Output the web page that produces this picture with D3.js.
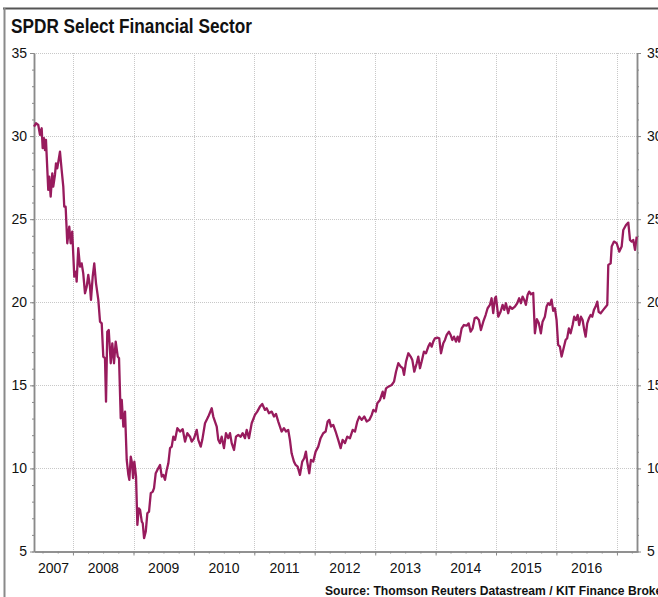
<!DOCTYPE html>
<html>
<head>
<meta charset="utf-8">
<script src="https://cdn.jsdelivr.net/npm/d3@7"></script>
<style>
  body { margin: 0; background: #fff; }
  svg { display: block; }
</style>
</head>
<body>
<svg id="chart" width="658" height="597"></svg>
<script>
const title = "SPDR Select Financial Sector"
const source = "Source: Thomson Reuters Datastream / KIT Finance Broker"
const yearLabels = ["2007", "2008", "2009", "2010", "2011", "2012", "2013", "2014", "2015", "2016"]
const yTicks = [5, 10, 15, 20, 25, 30, 35]

// weekly-ish closes (decimal year, price)
const dates = [
  2007.355, 2007.388, 2007.426, 2007.454, 2007.482, 2007.499, 2007.520, 2007.537, 2007.553, 2007.591,
  2007.608, 2007.631, 2007.658, 2007.674, 2007.702, 2007.719, 2007.740, 2007.785, 2007.813, 2007.840,
  2007.856, 2007.879, 2007.906, 2007.939, 2007.962, 2007.988, 2008.022, 2008.050, 2008.061, 2008.088,
  2008.116, 2008.144, 2008.170, 2008.199, 2008.227, 2008.253, 2008.281, 2008.298, 2008.326, 2008.352,
  2008.381, 2008.419, 2008.447, 2008.475, 2008.501, 2008.529, 2008.546, 2008.567, 2008.591, 2008.624,
  2008.650, 2008.678, 2008.706, 2008.740, 2008.761, 2008.789, 2008.806, 2008.832, 2008.860, 2008.888,
  2008.915, 2008.931, 2008.955, 2008.976, 2008.993, 2009.014, 2009.042, 2009.064, 2009.087, 2009.109,
  2009.137, 2009.153, 2009.175, 2009.203, 2009.229, 2009.257, 2009.286, 2009.319, 2009.340, 2009.368,
  2009.395, 2009.439, 2009.468, 2009.494, 2009.522, 2009.550, 2009.577, 2009.605, 2009.633, 2009.659,
  2009.688, 2009.726, 2009.770, 2009.815, 2009.853, 2009.891, 2009.936, 2009.964, 2010.002, 2010.047,
  2010.073, 2010.113, 2010.139, 2010.184, 2010.239, 2010.295, 2010.321, 2010.378, 2010.404, 2010.432,
  2010.460, 2010.498, 2010.531, 2010.569, 2010.598, 2010.626, 2010.664, 2010.697, 2010.735, 2010.775,
  2010.808, 2010.846, 2010.874, 2010.912, 2010.957, 2011.011, 2011.049, 2011.094, 2011.132, 2011.177,
  2011.205, 2011.243, 2011.288, 2011.326, 2011.359, 2011.397, 2011.425, 2011.453, 2011.491, 2011.524,
  2011.562, 2011.590, 2011.618, 2011.657, 2011.685, 2011.718, 2011.756, 2011.794, 2011.827, 2011.855,
  2011.876, 2011.910, 2011.938, 2011.976, 2012.016, 2012.059, 2012.098, 2012.141, 2012.181, 2012.214,
  2012.241, 2012.269, 2012.307, 2012.346, 2012.389, 2012.429, 2012.462, 2012.500, 2012.538, 2012.583,
  2012.628, 2012.666, 2012.704, 2012.737, 2012.777, 2012.820, 2012.859, 2012.902, 2012.942, 2012.969,
  2013.008, 2013.035, 2013.079, 2013.124, 2013.146, 2013.179, 2013.217, 2013.273, 2013.311, 2013.344,
  2013.382, 2013.422, 2013.455, 2013.477, 2013.510, 2013.548, 2013.587, 2013.614, 2013.647, 2013.687,
  2013.713, 2013.741, 2013.769, 2013.807, 2013.840, 2013.879, 2013.907, 2013.935, 2013.961, 2013.989,
  2014.027, 2014.060, 2014.089, 2014.127, 2014.155, 2014.183, 2014.221, 2014.249, 2014.276, 2014.304,
  2014.337, 2014.365, 2014.391, 2014.431, 2014.469, 2014.514, 2014.547, 2014.580, 2014.613, 2014.646,
  2014.679, 2014.717, 2014.750, 2014.789, 2014.828, 2014.861, 2014.899, 2014.927, 2014.954, 2014.982,
  2014.999, 2015.037, 2015.076, 2015.109, 2015.136, 2015.164, 2015.202, 2015.230, 2015.268, 2015.313,
  2015.351, 2015.384, 2015.412, 2015.440, 2015.467, 2015.495, 2015.523, 2015.550, 2015.578, 2015.616,
  2015.644, 2015.677, 2015.710, 2015.743, 2015.771, 2015.809, 2015.838, 2015.864, 2015.892, 2015.920,
  2015.947, 2015.975, 2016.003, 2016.029, 2016.058, 2016.086, 2016.112, 2016.152, 2016.178, 2016.206,
  2016.235, 2016.268, 2016.294, 2016.322, 2016.351, 2016.377, 2016.405, 2016.433, 2016.460, 2016.483,
  2016.509, 2016.537, 2016.565, 2016.592, 2016.620, 2016.648, 2016.675, 2016.698, 2016.731, 2016.774,
  2016.819, 2016.840, 2016.857, 2016.896, 2016.913, 2016.951, 2016.996, 2017.039, 2017.078, 2017.105,
  2017.150, 2017.188, 2017.216, 2017.244, 2017.270, 2017.299, 2017.327
]
const prices = [
  30.57, 30.77, 30.67, 30.07, 30.47, 29.27, 29.87, 29.16, 29.77, 26.76,
  27.56, 26.36, 27.76, 26.96, 27.66, 28.36, 28.06, 29.06, 27.96, 26.96,
  25.75, 25.75, 23.55, 24.55, 23.55, 24.25, 21.54, 21.84, 21.24, 23.25,
  22.14, 22.34, 21.74, 20.54, 20.94, 21.64, 20.94, 20.14, 21.54, 22.34,
  21.14, 20.14, 18.83, 18.73, 16.73, 16.63, 14.02, 18.23, 18.33, 16.33,
  17.53, 16.33, 17.63, 16.73, 16.63, 13.02, 14.12, 12.51, 13.42, 10.51,
  9.61, 9.31, 10.71, 10.31, 9.41, 10.41, 9.51, 6.60, 7.60, 7.50,
  6.80, 6.70, 5.80, 6.20, 7.30, 7.40, 8.51, 8.61, 8.81, 9.71,
  9.91, 10.21, 9.51, 9.61, 9.31, 9.91, 10.31, 11.22, 11.31, 11.91,
  11.72, 12.42, 12.22, 12.36, 11.61, 12.12, 11.91, 11.61, 11.81, 12.32,
  11.72, 11.31, 11.72, 12.72, 13.12, 13.62, 13.12, 12.52, 11.72, 11.52,
  11.91, 11.22, 12.12, 11.82, 12.12, 11.52, 11.11, 11.91, 12.01, 11.91,
  12.12, 11.82, 12.32, 11.82, 12.72, 13.22, 13.42, 13.72, 13.88, 13.52,
  13.62, 13.32, 13.42, 13.12, 13.28, 12.82, 12.52, 12.22, 12.42, 12.22,
  12.32, 11.72, 10.91, 10.41, 10.21, 10.11, 9.61, 10.41, 10.61, 11.01,
  10.41, 9.71, 10.51, 10.41, 11.01, 11.31, 11.82, 12.12, 12.22, 12.82,
  12.92, 12.52, 12.62, 12.22, 11.72, 11.22, 11.72, 11.52, 11.91, 11.82,
  12.32, 12.22, 12.82, 13.12, 12.92, 13.12, 12.82, 12.92, 13.22, 13.52,
  13.42, 13.92, 14.12, 14.62, 14.22, 14.82, 14.92, 15.02, 15.22, 15.82,
  16.33, 16.13, 16.03, 15.63, 16.43, 16.93, 16.73, 16.53, 15.82, 16.33,
  16.73, 16.03, 16.43, 17.03, 16.93, 17.33, 17.53, 17.33, 17.63, 17.83,
  17.87, 17.83, 16.93, 17.53, 17.73, 18.03, 18.23, 18.03, 17.73, 17.93,
  17.63, 17.93, 17.63, 18.43, 18.63, 18.59, 18.73, 18.23, 18.43, 19.03,
  19.09, 18.93, 18.33, 18.83, 19.23, 19.64, 19.84, 20.24, 19.34, 20.24,
  20.34, 19.13, 19.43, 19.84, 19.54, 19.94, 19.34, 19.74, 19.60, 19.74,
  19.94, 20.24, 19.94, 20.34, 20.14, 19.84, 20.44, 20.64, 20.48, 20.56,
  18.13, 18.98, 18.73, 18.13, 18.83, 19.13, 19.74, 19.94, 19.84, 20.16,
  19.48, 19.64, 18.93, 17.43, 17.33, 16.73, 17.13, 17.73, 17.83, 18.43,
  18.13, 18.63, 19.13, 18.93, 19.23, 18.63, 19.13, 18.93, 18.33, 17.93,
  18.73, 19.03, 19.23, 19.13, 19.54, 19.74, 20.04, 19.43, 19.34, 19.54,
  19.74, 19.84, 22.24, 22.34, 23.35, 23.65, 23.55, 23.05, 23.35, 24.35,
  24.65, 24.79, 23.75, 23.65, 23.75, 23.15, 23.95
]

const lineColor = "#981b5d"
const gridColor = "#c8c8c8"
const axisColor = "#8a8a8a"

function yearToDate(t){
    const yr = Math.floor(t)
    const start = new Date(yr, 0, 1), end = new Date(yr + 1, 0, 1)
    return new Date(+start + (t - yr)*(end - start))
}

const series = dates.map((d, i) => ({date: yearToDate(d), value: prices[i]}))

const svg = d3.select("#chart")
const plotLeft = 34, plotRight = 637, plotTop = 53, plotBottom = 551.5

const x = d3.scaleTime()
    .domain([yearToDate(2007.355), yearToDate(2017.332)])
    .range([plotLeft, plotRight])
const y = d3.scaleLinear().domain([5, 35]).range([plotBottom, plotTop])

svg.append("rect").attr("width", 658).attr("height", 597).attr("fill", "#fff")

// outer frame (top + left, the rest is cut off)
svg.append("line").attr("x1", 3).attr("x2", 658).attr("y1", 8.5).attr("y2", 8.5)
    .attr("stroke", "#555").attr("stroke-width", 2)
svg.append("line").attr("x1", 4.5).attr("x2", 4.5).attr("y1", 8).attr("y2", 597)
    .attr("stroke", "#8a8a8a").attr("stroke-width", 2)

// no narrow face installed, so squeeze the glyphs to the reference width
svg.append("text")
    .attr("x", 11).attr("y", 33)
    .attr("font-family", "'Liberation Sans Narrow', 'Arial Narrow', 'Liberation Sans', sans-serif")
    .attr("font-size", 20).attr("font-weight", "bold").attr("fill", "#111")
    .attr("textLength", 241).attr("lengthAdjust", "spacingAndGlyphs")
    .text(title)

const yearStarts = d3.range(2008, 2018).map(yr => new Date(yr, 0, 1))

// grid
const grid = svg.append("g").attr("stroke", gridColor).attr("stroke-width", 1)
    .attr("stroke-dasharray", "1,1")
grid.selectAll(".h").data(yTicks.filter(v => v > 5)).join("line")
    .attr("x1", plotLeft).attr("x2", plotRight)
    .attr("y1", d => Math.round(y(d)) + 0.5).attr("y2", d => Math.round(y(d)) + 0.5)
grid.selectAll(".v").data(yearStarts).join("line")
    .attr("x1", d => Math.round(x(d)) + 0.5).attr("x2", d => Math.round(x(d)) + 0.5)
    .attr("y1", plotTop).attr("y2", plotBottom)

const tickFont = "'Liberation Sans', Arial, sans-serif"

function styleAxis(g){
    g.selectAll(".domain").attr("stroke", axisColor).attr("stroke-width", 1.5)
    g.selectAll(".tick line").attr("stroke", axisColor)
    g.selectAll("text").attr("font-family", tickFont).attr("font-size", 14).attr("fill", "#111")
}

// y axes: minor every 1, major every 5
const yMinor = d3.range(5, 36)
svg.append("g").attr("transform", `translate(${plotLeft},0)`)
    .call(d3.axisLeft(y).tickValues(yMinor).tickSize(2).tickFormat("").tickSizeOuter(0))
    .call(styleAxis)
svg.append("g").attr("transform", `translate(${plotLeft},0)`)
    .call(d3.axisLeft(y).tickValues(yTicks).tickSize(4).tickPadding(3).tickSizeOuter(0))
    .call(styleAxis)
svg.append("g").attr("transform", `translate(${plotRight},0)`)
    .call(d3.axisRight(y).tickValues(yMinor).tickSize(2).tickFormat("").tickSizeOuter(0))
    .call(styleAxis)
svg.append("g").attr("transform", `translate(${plotRight},0)`)
    .call(d3.axisRight(y).tickValues(yTicks).tickSize(4).tickPadding(6).tickSizeOuter(0))
    .call(styleAxis)

// x axis: quarterly minor ticks, yearly major ticks, labels centred on the visible part of each year
const quarters = d3.timeMonth.every(3).range(x.domain()[0], x.domain()[1])
svg.append("g").attr("transform", `translate(0,${plotBottom})`)
    .call(d3.axisBottom(x).tickValues(quarters).tickSize(2).tickFormat("").tickSizeOuter(0))
    .call(styleAxis)
svg.append("g").attr("transform", `translate(0,${plotBottom})`)
    .call(d3.axisBottom(x).tickValues(yearStarts).tickSize(4).tickFormat("").tickSizeOuter(0))
    .call(styleAxis)

svg.append("g").selectAll("text").data(yearLabels).join("text")
    .attr("x", d => {
        const a = Math.max(x(new Date(+d, 0, 1)), plotLeft)
        const b = Math.min(x(new Date(+d + 1, 0, 1)), plotRight)
        return (a + b)/2
    })
    .attr("y", 573)
    .attr("text-anchor", "middle")
    .attr("font-family", tickFont).attr("font-size", 14).attr("fill", "#111")
    .text(d => d)

// price line
const line = d3.line().x(d => x(d.date)).y(d => y(d.value))
svg.append("path").datum(series)
    .attr("fill", "none").attr("stroke", lineColor).attr("stroke-width", 2.3)
    .attr("stroke-linejoin", "round")
    .attr("d", line)

svg.append("text")
    .attr("x", 325).attr("y", 595)
    .attr("font-family", "'Liberation Sans Narrow', 'Arial Narrow', 'Liberation Sans', sans-serif")
    .attr("font-size", 13).attr("font-weight", "bold").attr("fill", "#111")
    .attr("textLength", 342).attr("lengthAdjust", "spacingAndGlyphs")
    .text(source)
</script>
</body>
</html>
